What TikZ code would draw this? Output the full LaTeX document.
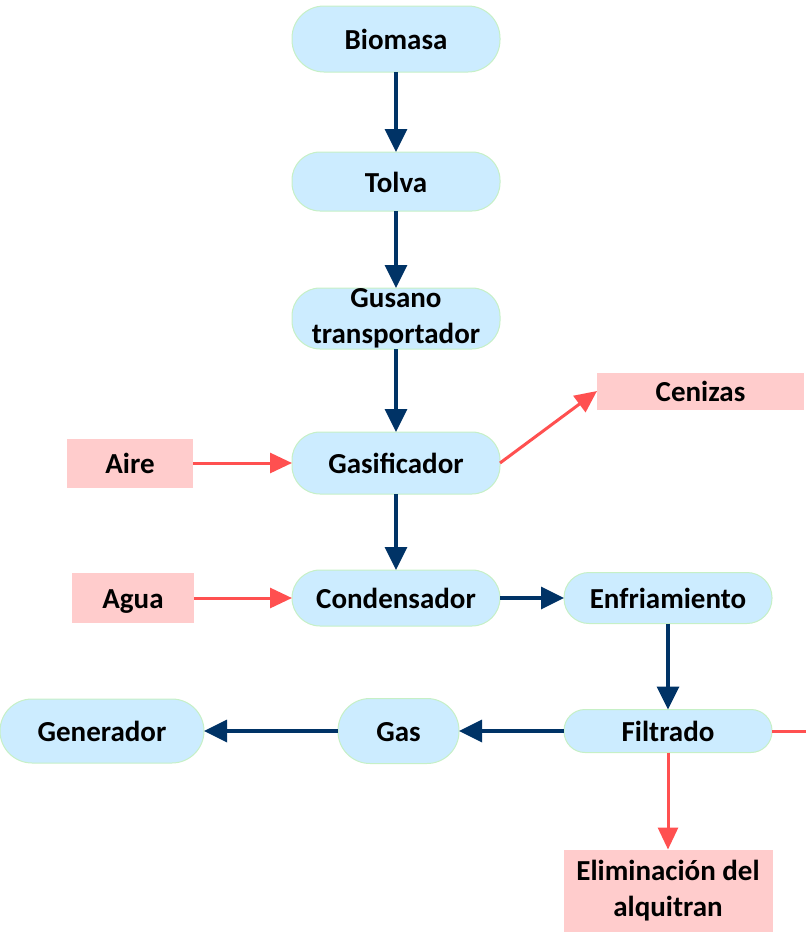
\documentclass[tikz,border=0pt]{standalone}
\usepackage{fontspec}
\setmainfont{Carlito}
\usepackage{tikz}
\usetikzlibrary{arrows.meta,positioning}
\definecolor{cajaazul}{HTML}{CCECFF}
\definecolor{bordeverde}{HTML}{C6F0C6}
\definecolor{cajarosa}{HTML}{FFCCCC}
\definecolor{azuloscuro}{HTML}{003366}
\definecolor{rojo}{HTML}{FF5050}
\tikzset{
        proc/.style = {draw=bordeverde, fill=cajaazul, line width=1pt,
            rounded corners=28pt, align=center, inner sep=0pt, outer sep=0pt,
            minimum width=208pt, minimum height=60pt,
            text height=21pt, text depth=0pt,
            font=\fontsize{29}{36}\selectfont\bfseries},
        pin/.style = {fill=cajarosa, align=center, inner sep=0pt, outer sep=0pt,
            minimum width=125pt, minimum height=49pt,
            text height=21pt, text depth=0pt,
            font=\fontsize{29}{36}\selectfont\bfseries},
        doble/.style = {text height={}, text depth={}},
        flujo/.style = {draw=azuloscuro, line width=3.5pt,
            -{Triangle[length=23pt,width=22pt]}},
        entra/.style = {draw=rojo, line width=3pt,
            -{Triangle[length=22pt,width=20pt]}},
    }

\begin{document}
\begin{tikzpicture}
        \useasboundingbox (0,0) rectangle (806pt,-937pt);

        % linea principal
        \node[proc, minimum height=66pt, rounded corners=32pt] (biomasa) at (396pt,-39pt) {Biomasa};
        \node[proc, minimum height=59pt, below=80pt of biomasa] (tolva) {Tolva};
        \node[proc, doble, minimum height=61pt, below=77pt of tolva] (gusano) {Gusano\\transportador};
        \node[proc, minimum height=62pt, below=83pt of gusano] (gasif) {Gasificador};
        \node[proc, minimum height=56pt, below=76pt of gasif] (conden) {Condensador};
        \node[proc, minimum height=51pt, rounded corners=25pt, right=64pt of conden] (enfria) {Enfriamiento};
        \node[proc, minimum height=43pt, rounded corners=21pt, below=86pt of enfria] (filtrado) {Filtrado};
        \node[proc, minimum width=121pt, minimum height=65pt, rounded corners=32pt, left=105pt of filtrado] (gas) {Gas};
        \node[proc, minimum width=204pt, minimum height=64pt, rounded corners=32pt, left=134pt of gas] (generador) {Generador};

        % entradas y salidas
        \node[pin, minimum width=126pt, left=99pt of gasif] (aire) {Aire};
        \node[pin, minimum width=122pt, minimum height=50pt, left=98pt of conden] (agua) {Agua};
        \node[pin, minimum width=207pt, minimum height=37pt, anchor=west] (cenizas) at ([xshift=97pt,yshift=72pt]gasif.east) {Cenizas};
        \node[pin, doble, minimum width=209pt, minimum height=82pt, below=97pt of filtrado] (alquitran) {Eliminación del\\alquitran};
        \coordinate (salida) at (806pt,0 |- filtrado.east);

        \draw[flujo] (biomasa) -- (tolva);
        \draw[flujo] (tolva) -- (gusano);
        \draw[flujo] (gusano) -- (gasif);
        \draw[flujo] (gasif) -- (conden);
        \draw[flujo] (conden) -- (enfria);
        \draw[flujo] (enfria) -- (filtrado);
        \draw[flujo] (filtrado) -- (gas);
        \draw[flujo] (gas) -- (generador);

        \draw[entra] (aire) -- (gasif);
        \draw[entra] (agua) -- (conden);
        \draw[entra] (gasif.east) -- (cenizas.west);
        \draw[entra] (filtrado) -- (alquitran);
        \draw[draw=rojo, line width=3pt] (filtrado.east) -- (salida);
    \end{tikzpicture}
\end{document}
